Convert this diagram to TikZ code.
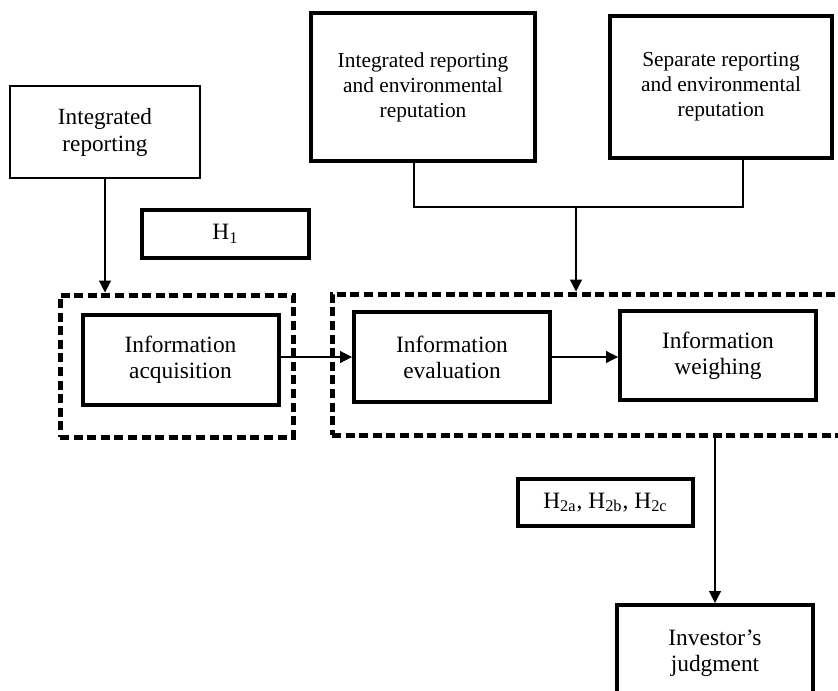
\documentclass[tikz,border=0pt]{standalone}
\usepackage{fontspec}
\setmainfont{Liberation Serif}
\usepackage{tikz}
\usetikzlibrary{
    arrows.meta,
    positioning
}

\begin{document}
\begin{tikzpicture}[
    x=0.5pt, y=-0.5pt,
    box/.style={
        draw,
        line width=2pt,
        minimum width=98pt,
        minimum height=45pt,
        align=center,
        inner sep=2pt,
        font=\fontsize{11.7}{13}\selectfont
    },
    thinbox/.style={
        box,
        line width=1pt,
        font=\fontsize{11.6}{13.5}\selectfont
    },
    topbox/.style={
        box,
        font=\fontsize{10.7}{12.5}\selectfont
    },
    groupbox/.style={
        draw,
        line width=2.5pt,
        dash pattern=on 4.5pt off 2.3pt
    },
    arr/.style={
        -{Triangle[length=6pt,width=6pt]},
        line width=0.6pt
    }
]
\useasboundingbox (0,0) rectangle (838,690);

% dashed groups
\node[groupbox, minimum width=116.5pt, minimum height=71pt] (group1) at (176.5,366) {};
\node[groupbox, minimum width=264pt, minimum height=70.5pt] (group2) at (596,364.5) {};

% top row
\node[thinbox, minimum width=95pt, minimum height=46pt] (intrep) at (105,132)
{Integrated\\reporting};

\node[topbox, minimum width=112pt, minimum height=74pt] (intenv) at (423,87)
{Integrated reporting\\and environmental\\reputation};

\node[topbox, minimum width=111pt, minimum height=71pt] (sepenv) at (721,87)
{Separate reporting\\and environmental\\reputation};

% hypotheses
\node[box, minimum width=83.5pt, minimum height=24pt] (hypone) at (225.5,234)
{H\textsubscript{1}};

\node[box, minimum width=87.5pt, minimum height=23.5pt] (hyptwo) at (605.5,502.5)
{H\textsubscript{2a}, H\textsubscript{2b}, H\textsubscript{2c}};

% process
\node[box] (acq) at (180.5,360)
{Information\\acquisition};

\node[box] (eval) at (452,357)
{Information\\evaluation};

\node[box, minimum height=44.5pt] (weigh) at (718,355.5)
{Information\\weighing};

\node[box, minimum height=48pt] (judg) at (715,653)
{Investor’s\\judgment};

% connectors
\coordinate (joinL) at (414,207);
\coordinate (joinR) at (743,207);
\coordinate (join) at (576,207);

\draw[line width=0.6pt] (intenv.south -| joinL) -- (joinL) -- (joinR) -- (sepenv.south -| joinR);
\draw[arr] (join) -- (join |- group2.north);
\draw[arr] (intrep.south) -- (intrep.south |- group1.north);
\draw[arr] ([xshift=-2pt]acq.east |- eval.west) -- (eval.west);
\draw[arr] (eval.east) -- (eval.east -| weigh.west);
\draw[arr] (group2.south -| judg.north) -- (judg.north);

\end{tikzpicture}
\end{document}
